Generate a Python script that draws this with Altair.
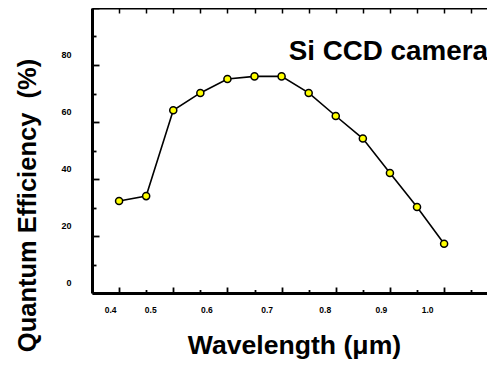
import altair as alt
import pandas as pd

# Data
wavelength = [0.40, 0.45, 0.50, 0.55, 0.60, 0.65, 0.70, 0.75, 0.80, 0.85, 0.90, 0.95, 1.00]
qe = [32.3, 34.0, 64.1, 70.2, 75.1, 76.0, 76.0, 70.2, 62.1, 54.2, 42.1, 30.2, 17.3]

x_major = [0.4, 0.5, 0.6, 0.7, 0.8, 0.9, 1.0]
x_minor = [0.45, 0.55, 0.65, 0.75, 0.85, 0.95, 1.05]
x_all = sorted(x_major + x_minor)
y_major = [0, 20, 40, 60, 80, 100]
y_minor = [10, 30, 50, 70, 90]
y_labels = [0, 20, 40, 60, 80]

df = pd.DataFrame({"wl": wavelength, "qe": qe})

FONT = "Liberation Sans"
W, H = 395, 285
XDOM = [0.35, 0.35 + W / 541.7]
YDOM = [0, 100]

# irregular horizontal shifts of the x tick labels in the reference
x_label_shift = {0.4: -9, 0.5: -23, 0.6: -21, 0.7: -15, 0.8: -11, 0.9: -9, 1.0: -17}
label_offset_x = {
    "condition": [
        {"test": f"datum.value < {v + 0.05}", "value": o}
        for v, o in x_label_shift.items()
    ],
    "value": -15,
}

xs = alt.Scale(domain=XDOM, nice=False, zero=False)
ys = alt.Scale(domain=YDOM, nice=False, zero=False)

base = alt.Chart(df)

# main line with label axes
line = base.mark_line(color="black", strokeWidth=1.6).encode(
    x=alt.X("wl:Q", scale=xs, axis=alt.Axis(
        orient="bottom", values=x_major, domain=False, ticks=False, tickSize=0,
        grid=False, format=".1f", labelFont=FONT, labelFontWeight="bold",
        labelFontSize=8.5, labelColor="black", labelBaseline="middle",
        labelPadding=16, labelOffset=label_offset_x, labelFlush=False,
        labelBound=False, labelOverlap=False,
        title="Wavelength (μm)", titleFont=FONT, titleFontWeight="bold",
        titleFontSize=26.6, titleColor="black", titleX=202, titleY=60,
        titleAlign="center", titleBaseline="alphabetic", titleAngle=0)),
    y=alt.Y("qe:Q", scale=ys, axis=alt.Axis(
        orient="left", values=y_labels, domain=False, ticks=False, tickSize=0,
        grid=False, labelFont=FONT, labelFontWeight="bold", labelFontSize=9,
        labelColor="black", labelBaseline="middle", labelAlign="right",
        labelPadding=21, labelOffset=-11, labelFlush=False, labelOverlap=False,
        title="Quantum Efficiency \u00a0(%)", titleFont=FONT, titleFontWeight="bold",
        titleFontSize=25.5, titleColor="black", titleX=-57, titleY=197,
        titleAngle=270, titleAlign="center", titleBaseline="alphabetic")),
)

points = base.mark_point(filled=True, fill="#ffff00", stroke="black",
                         strokeWidth=1.5, size=50, opacity=1, shape="circle").encode(
    x=alt.X("wl:Q", scale=xs, axis=None),
    y=alt.Y("qe:Q", scale=ys, axis=None),
)

# inward major ticks on bottom and left, with the axis lines
ticks_major = base.mark_point(opacity=0).encode(
    x=alt.X("wl:Q", scale=xs, axis=alt.Axis(
        orient="top", offset=-H, values=x_major, labels=False, grid=False,
        ticks=True, tickSize=6, tickWidth=1.8, tickColor="black",
        domain=True, domainWidth=3, domainColor="black", title=None)),
    y=alt.Y("qe:Q", scale=ys, axis=alt.Axis(
        orient="right", offset=-W, values=y_major, labels=False, grid=False,
        ticks=True, tickSize=7, tickWidth=1.8, tickColor="black",
        domain=True, domainWidth=3, domainColor="black", title=None)),
)

# inward minor ticks
ticks_minor = base.mark_point(opacity=0).encode(
    x=alt.X("wl:Q", scale=xs, axis=alt.Axis(
        orient="top", offset=-H, values=x_minor, labels=False, grid=False,
        ticks=True, tickSize=3.5, tickWidth=1.8, tickColor="black",
        domain=False, title=None)),
    y=alt.Y("qe:Q", scale=ys, axis=alt.Axis(
        orient="right", offset=-W, values=y_minor, labels=False, grid=False,
        ticks=True, tickSize=4, tickWidth=1.8, tickColor="black",
        domain=False, title=None)),
)

# top border with downward ticks
ticks_top = base.mark_point(opacity=0).encode(
    x=alt.X("wl:Q", scale=xs, axis=alt.Axis(
        orient="bottom", offset=-H, values=x_all, labels=False, grid=False,
        ticks=True, tickSize=5, tickWidth=1.5, tickColor="black",
        domain=True, domainWidth=2.2, domainColor="black", title=None)),
    y=alt.Y("qe:Q", scale=ys, axis=None),
)

chart = alt.layer(ticks_major, ticks_minor, ticks_top, line, points).resolve_axis(
    x="independent", y="independent"
).properties(
    width=W, height=H,
    autosize=alt.AutoSizeParams(type="none"),
    padding={"left": 84, "top": 0, "right": 0, "bottom": 68},
    title=alt.TitleParams(
        "Si CCD camera", anchor="end", orient="top", offset=0, dy=81, dx=1,
        font=FONT, fontWeight="bold", fontSize=27.8, color="black",
        baseline="alphabetic", frame="group"),
).configure_view(stroke=None).configure(background="white")

chart.save("out.html", embed_options={"renderer": "svg", "actions": False})
